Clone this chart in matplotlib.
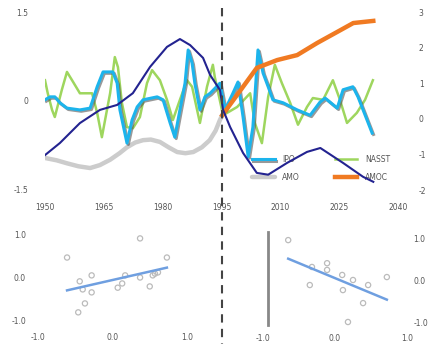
import matplotlib
matplotlib.use("Agg")
import matplotlib.pyplot as plt
import numpy as np
from matplotlib.lines import Line2D
import matplotlib.patheffects as pe

# ---------------- data ----------------
ipo_years = [1950, 1951.3, 1952.5, 1953.8, 1955.6, 1958.9, 1961.5, 1963.3, 1964.8, 1967.3,
             1968.4, 1969.1, 1970.9, 1972.2, 1973.5, 1975, 1978.6, 1980.1, 1981.9, 1983.1,
             1984.4, 1985.7, 1986.5, 1987.5, 1988.2, 1989.5, 1990.8, 1992.1, 1994.6, 1995.9,
             1997.9, 1999.2, 2000.5, 2001.8, 2003, 2004.3, 2005.6, 2006.9, 2008.1, 2010.7,
             2014.3, 2017.6, 2020.1, 2021.4, 2024.5, 2026, 2028.5, 2029.8, 2031.1, 2033.4]
ipo_vals = [0.02, 0.07, 0.07, -0.03, -0.12, -0.15, -0.12, 0.24, 0.49, 0.49,
            0.30, -0.15, -0.71, -0.32, -0.10, 0.02, 0.07, 0.02, -0.37, -0.61,
            -0.15, 0.30, 0.86, 0.64, 0.30, -0.15, 0.07, 0.13, 0.30, -0.15,
            0.13, 0.32, -0.27, -0.94, -0.44, 0.86, 0.47, 0.24, 0.02, -0.03,
            -0.15, -0.24, -0.02, 0.05, -0.12, 0.19, 0.24, 0.07, -0.15, -0.54]

nasst_years = [1950, 1950.7, 1951.8, 1952.5, 1954.3, 1955.6, 1956.9, 1958.9, 1962, 1963.3,
               1964.5, 1965.8, 1966.6, 1967.8, 1968.6, 1969.6, 1970.9, 1972.4, 1974.2, 1976,
               1977.3, 1979.3, 1981.1, 1982.6, 1984.4, 1986.2, 1987.5, 1989.5, 1991.3, 1992.8,
               1993.3, 1995.4, 1999, 2002.3, 2003.5, 2005.3, 2006.9, 2008.6, 2010.4, 2012.5,
               2014.5, 2016.8, 2018.3, 2020.9, 2023.4, 2025.2, 2027, 2029.5, 2031.6, 2033.6]
nasst_vals = [0.35, 0.13, -0.15, -0.27, 0.19, 0.49, 0.35, 0.13, 0.13, -0.20,
              -0.61, -0.15, 0.13, 0.74, 0.57, -0.03, -0.44, -0.46, -0.27, 0.30,
              0.52, 0.35, 0.02, -0.32, 0.02, 0.35, 0.24, -0.37, 0.24, 0.61,
              0.40, -0.24, -0.10, 0.13, -0.37, -0.71, 0.07, 0.61, 0.30, -0.03,
              -0.40, -0.10, 0.05, 0.02, 0.35, 0.02, -0.37, -0.20, 0.02, 0.35]

amo_years = [1950, 1953, 1955.6, 1958.5, 1961.5, 1964, 1966.6, 1969, 1970.9, 1973, 1975,
             1977, 1979.3, 1981.5, 1983.7, 1985.8, 1987.8, 1990, 1992, 1993.5, 1994.6, 1995.5]
amo_vals = [-0.96, -1.0, -1.05, -1.10, -1.13, -1.08, -0.99, -0.88, -0.78, -0.70, -0.66,
            -0.65, -0.69, -0.78, -0.86, -0.88, -0.86, -0.78, -0.66, -0.50, -0.32, -0.20]

lowfreq_years = [1950, 1953.8, 1958.9, 1964, 1968.4, 1972.4, 1976.8, 1981.1, 1984.4, 1987,
                 1990.3, 1992.1, 1994.6, 1995.4, 1997.2, 2000.5, 2004, 2006.9, 2011.7, 2016.8,
                 2020.2, 2026, 2031.1, 2033.7]
lowfreq_vals = [-1.02, -0.68, -0.12, 0.25, 0.39, 0.72, 1.46, 2.02, 2.24, 2.07,
                1.71, 1.23, 0.81, 0.25, -0.23, -0.96, -1.52, -1.57, -1.24, -0.93,
                -0.82, -1.24, -1.63, -1.77]

amoc_years = [1995.2, 2000.5, 2004, 2009.2, 2014.3, 2019.4, 2024.5, 2028.6, 2033.7]
amoc_vals = [0.10, 0.90, 1.43, 1.65, 1.79, 2.13, 2.44, 2.69, 2.75]

top_xticks = [1950, 1965, 1980, 1995, 2010, 2025, 2040]
left_yticks = [-1.5, 0, 1.5]
left_ylabels = ["-1.5", "0", "1.5"]
right_yticks = [-2, -1, 0, 1, 2, 3]

legend_labels = ["IPO", "AMO", "NASST", "AMOC"]

scatL_x = [0.37, -0.61, 0.73, -0.28, 0.17, 0.37, 0.57, 0.61, 0.54, -0.44, -0.40, -0.28,
           0.13, 0.07, 0.50, -0.37, -0.46]
scatL_y = [0.92, 0.47, 0.47, 0.05, 0.05, 0.0, 0.09, 0.12, 0.05, -0.09, -0.28, -0.35,
           -0.14, -0.24, -0.21, -0.61, -0.82]
scatR_x = [-0.65, -0.32, -0.11, -0.11, 0.10, 0.25, -0.35, 0.11, 0.46, 0.72, 0.39, 0.18]
scatR_y = [0.95, 0.31, 0.40, 0.24, 0.12, 0.0, -0.12, -0.24, -0.12, 0.07, -0.55, -1.0]

bottom_ticks = [-1, 0, 1]
bottom_labels = ["-1.0", "0.0", "1.0"]
bottomL_yticks = [-1, 0, 1]
bottomL_ylabels = ["-1.0", "0.0", "1.0"]

# ---------------- colours ----------------
C_IPO = "#1cb4ec"
C_NASST = "#9ed65e"
C_AMO = "#cccccc"
C_LOW = "#232390"
C_AMOC = "#f07a22"
C_FIT = "#6f9fe0"
TXT = "#555555"

W, H = 431, 344
fig = plt.figure(figsize=(W / 100, H / 100), dpi=100)


def fx(px):
    return px / W


def fy(py):
    return 1 - py / H


# ---------------- top panel ----------------
ax = fig.add_axes([fx(45), fy(197), fx(398) - fx(45), fy(5) - fy(197)])
ax.set_xlim(1950, 2040)
ax.set_ylim(-1.5 - 7 / 59.33, 1.5 + 7 / 59.33)
for s in ax.spines.values():
    s.set_visible(False)
ax.set_xticks(top_xticks)
ax.set_xticklabels([str(t) for t in top_xticks])
ax.set_yticks(left_yticks)
ax.set_yticklabels(left_ylabels)
ax.tick_params(axis="x", length=0, pad=4, labelsize=5.5, labelcolor=TXT)
ax.tick_params(axis="y", length=0, pad=12, labelsize=5.5, labelcolor=TXT)

ax2 = ax.twinx()
ax2.set_ylim(-2 - 7 / 35.6, 3 + 7 / 35.6)
for s in ax2.spines.values():
    s.set_visible(False)
ax2.set_yticks(right_yticks)
ax2.set_yticklabels([str(t) for t in right_yticks])
ax2.tick_params(axis="y", length=0, pad=15, labelsize=5.5, labelcolor=TXT)

l_amo, = ax.plot(amo_years, amo_vals, color=C_AMO, lw=3.2, solid_capstyle="round", zorder=2)
l_nasst, = ax.plot(nasst_years, nasst_vals, color=C_NASST, lw=1.8, zorder=3)
l_ipo, = ax.plot(ipo_years, ipo_vals, color=C_IPO, lw=2.2, zorder=4,
                 path_effects=[pe.SimpleLineShadow(offset=(1, -1), shadow_color="#555555", alpha=0.6),
                               pe.Normal()])
l_amoc, = ax2.plot(amoc_years, amoc_vals, color=C_AMOC, lw=3.2, zorder=5)
ax2.plot(lowfreq_years, lowfreq_vals, color=C_LOW, lw=1.5, zorder=6)

ax2.legend([l_ipo, l_amo, l_nasst, l_amoc], legend_labels, ncol=2, frameon=False,
           loc="upper left", bbox_to_anchor=(fx(245), fy(148)), bbox_transform=fig.transFigure,
           fontsize=5.5, handlelength=3.0, columnspacing=4.5, labelspacing=1.2,
           labelcolor=TXT, handletextpad=1.0)

# ---------------- bottom-left ----------------
axL = fig.add_axes([fx(38 - 0.05 * 74.5), fy(320 + 0.1 * 42.5),
                    2.1 * 74.5 / W, 2.2 * 42.5 / H])
axL.set_xlim(-1.05, 1.05)
axL.set_ylim(-1.1, 1.1)
for s in axL.spines.values():
    s.set_visible(False)
axL.scatter(scatL_x, scatL_y, s=14, facecolors="none", edgecolors="#bbbbbb", linewidths=0.9)
cL = np.polyfit(scatL_x, scatL_y, 1)
xl = np.array([min(scatL_x), max(scatL_x)])
axL.plot(xl, np.polyval(cL, xl), color=C_FIT, lw=1.8)
axL.set_xticks(bottom_ticks)
axL.set_xticklabels(bottom_labels)
axL.set_yticks(bottomL_yticks)
axL.set_yticklabels(bottomL_ylabels)
axL.tick_params(axis="x", length=0, pad=6, labelsize=5.5, labelcolor=TXT)
axL.tick_params(axis="y", length=0, pad=6, labelsize=5.5, labelcolor=TXT)

# ---------------- bottom-right ----------------
axR = fig.add_axes([fx(263 - 0.05 * 72), fy(322 + 0.15 * 42),
                    2.1 * 72 / W, 2.35 * 42 / H])
axR.set_xlim(-1.05, 1.05)
axR.set_ylim(-1.15, 1.2)
for s in axR.spines.values():
    s.set_visible(False)
axR.axvline(-0.93, ymin=0.03, ymax=0.98, color="#888888", lw=2)
axR.scatter(scatR_x, scatR_y, s=14, facecolors="none", edgecolors="#bbbbbb", linewidths=0.9)
cR = np.polyfit(scatR_x, scatR_y, 1)
xr = np.array([min(scatR_x), max(scatR_x)])
axR.plot(xr, np.polyval(cR, xr), color=C_FIT, lw=1.8)
axR.set_xticks(bottom_ticks)
axR.set_xticklabels(bottom_labels)
axR.yaxis.tick_right()
axR.set_yticks(bottom_ticks)
axR.set_yticklabels(bottom_labels)
axR.tick_params(axis="x", length=0, pad=4, labelsize=5.5, labelcolor=TXT)
axR.tick_params(axis="y", length=0, pad=2, labelsize=5.5, labelcolor=TXT)

# ---------------- dashed separator ----------------
fig.add_artist(Line2D([fx(222), fx(222)], [fy(8), fy(344)], transform=fig.transFigure,
                      color="#444444", lw=1.5, linestyle=(0, (4, 3))))

fig.savefig("out.png", dpi=100)
